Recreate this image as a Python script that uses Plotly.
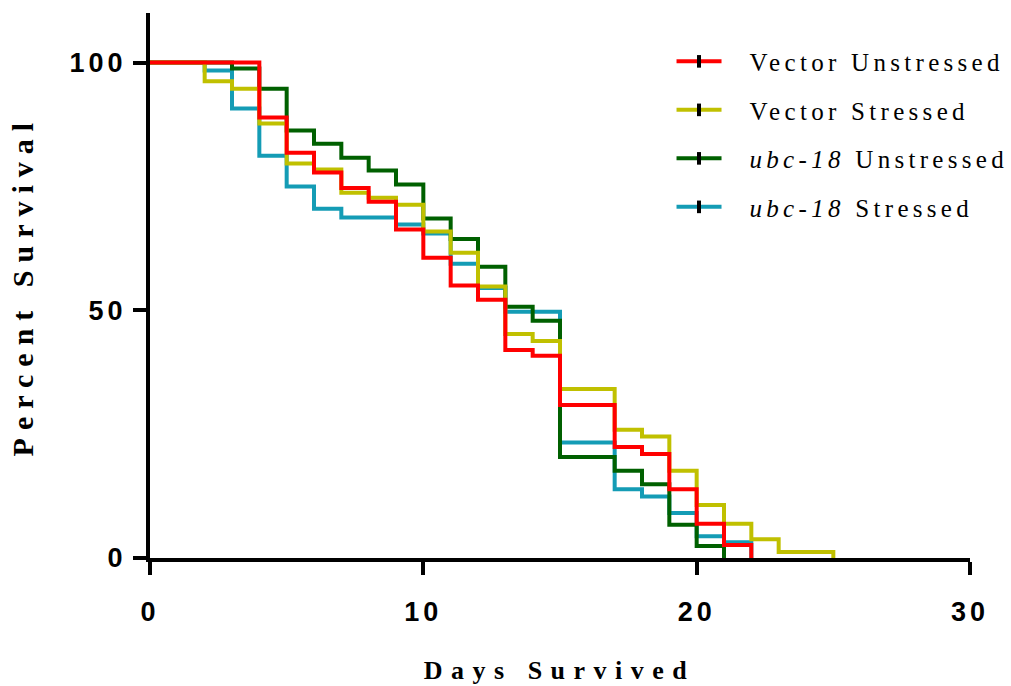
import plotly.graph_objects as go

# ---- data ----
vec_un_days = [0, 4, 5, 6, 7, 8, 9, 10, 11, 12, 13, 14, 15, 17, 18, 19, 20, 21, 22]
vec_un_surv = [100, 88.9, 81.8, 77.8, 74.7, 71.9, 66.3, 60.6, 55.0, 52.1, 42.0, 40.8, 30.9, 22.4, 21.0, 13.9, 6.9, 2.6, 0]

vec_st_days = [0, 2, 3, 4, 5, 6, 7, 8, 9, 10, 11, 12, 13, 14, 15, 17, 18, 19, 20, 21, 22, 23, 25]
vec_st_surv = [100, 96.2, 94.7, 87.7, 79.6, 78.4, 73.7, 72.7, 71.3, 65.9, 61.6, 54.8, 45.2, 43.8, 34.1, 25.9, 24.5, 17.6, 10.7, 6.9, 3.8, 1.2, 0]

ubc_un_days = [0, 3, 4, 5, 6, 7, 8, 9, 10, 11, 12, 13, 14, 15, 17, 18, 19, 20, 21]
ubc_un_surv = [100, 98.8, 94.7, 86.3, 83.6, 80.8, 78.2, 75.4, 68.5, 64.4, 58.8, 50.7, 47.9, 20.4, 17.6, 14.9, 6.7, 2.4, 0]

ubc_st_days = [0, 2, 3, 4, 5, 6, 7, 9, 10, 11, 12, 13, 15, 17, 18, 19, 20, 21, 22]
ubc_st_surv = [100, 98.4, 90.7, 81.2, 75.0, 70.5, 68.7, 67.3, 65.5, 59.4, 54.5, 49.7, 23.3, 13.9, 12.4, 9.1, 4.4, 3.2, 0]

series_names = ["Vector Unstressed", "Vector Stressed",
                "<i>ubc-18</i> Unstressed", "<i>ubc-18</i> Stressed"]
series_colors = ["#FF0000", "#C0C000", "#006000", "#149CB5"]
series_days = [vec_un_days, vec_st_days, ubc_un_days, ubc_st_days]
series_surv = [vec_un_surv, vec_st_surv, ubc_un_surv, ubc_st_surv]

x_ticks = [0, 10, 20, 30]
y_ticks = [0, 50, 100]

fig = go.Figure()

# draw data curves (bottom-most first so red ends on top)
for i in [3, 2, 1, 0]:
    fig.add_trace(go.Scatter(
        x=series_days[i], y=series_surv[i], mode="lines",
        line=dict(color=series_colors[i], width=4, shape="hv"),
        showlegend=False, hoverinfo="skip"))

# legend entries (line with censor tick)
for i in range(4):
    fig.add_trace(go.Scatter(
        x=[None], y=[None], mode="lines+markers", name=series_names[i],
        legendgroup="g%d" % i,
        line=dict(color=series_colors[i], width=4),
        marker=dict(symbol="line-ns", size=9, color="black",
                    line=dict(color="black", width=4))))

axis_font = dict(family="Liberation Sans", size=27, color="black", weight="bold")
fig.update_xaxes(range=[0, 30], tickvals=x_ticks, ticks="outside", ticklen=13,
                 tickwidth=4, tickcolor="black", showline=True, linewidth=4,
                 linecolor="black", showgrid=False, zeroline=False,
                 tickfont=axis_font, ticklabelstandoff=14)
fig.update_yaxes(range=[0, 110], tickvals=y_ticks, ticks="outside", ticklen=13,
                 tickwidth=4, tickcolor="black", showline=True, linewidth=4,
                 linecolor="black", showgrid=False, zeroline=False,
                 tickfont=axis_font, ticklabelstandoff=1)

fig.add_annotation(text="Days Survived", xref="paper", yref="paper",
                   x=0.5, y=-0.207, xanchor="center", yanchor="middle",
                   showarrow=False,
                   font=dict(family="Liberation Serif", size=26, color="black", weight="bold"))
fig.add_annotation(text="Percent Survival", xref="paper", yref="paper",
                   x=-0.155, y=0.5, xanchor="center", yanchor="middle",
                   textangle=-90, showarrow=False,
                   font=dict(family="Liberation Serif", size=30, color="black", weight="bold"))

fig.update_layout(
    width=1011, height=686,
    margin=dict(l=150, r=41, t=13, b=128),
    plot_bgcolor="white", paper_bgcolor="white",
    showlegend=True,
    legend=dict(x=0.636, y=0.953, xanchor="left", yanchor="top",
                font=dict(family="Liberation Serif", size=25, color="black"),
                bgcolor="rgba(0,0,0,0)", tracegroupgap=13, itemwidth=45,
                traceorder="grouped"),
)

post = """
document.body.style.margin = '0';
document.body.style.padding = '0';
var gd = document.getElementById('{plot_id}');
function sp(){
  document.body.style.margin = '0';
  gd.querySelectorAll('.legendtext').forEach(function(e){
    e.style.letterSpacing='4.3px';
    e.style.transform='translate(23px, 0px)';
  });
  gd.querySelectorAll('.legend .scrollbox').forEach(function(e){e.removeAttribute('clip-path');});
  gd.querySelectorAll('.xtick text, .ytick text').forEach(function(e){e.style.letterSpacing='4px';});
  var a = gd.querySelectorAll('.annotation-text');
  if (a.length > 0) a[0].style.letterSpacing='8.5px';
  if (a.length > 1) a[1].style.letterSpacing='8px';
}
sp(); setTimeout(sp, 50); setTimeout(sp, 300);
gd.on('plotly_afterplot', sp);
"""

fig.write_html("out.html", post_script=post, config={"displayModeBar": False})
